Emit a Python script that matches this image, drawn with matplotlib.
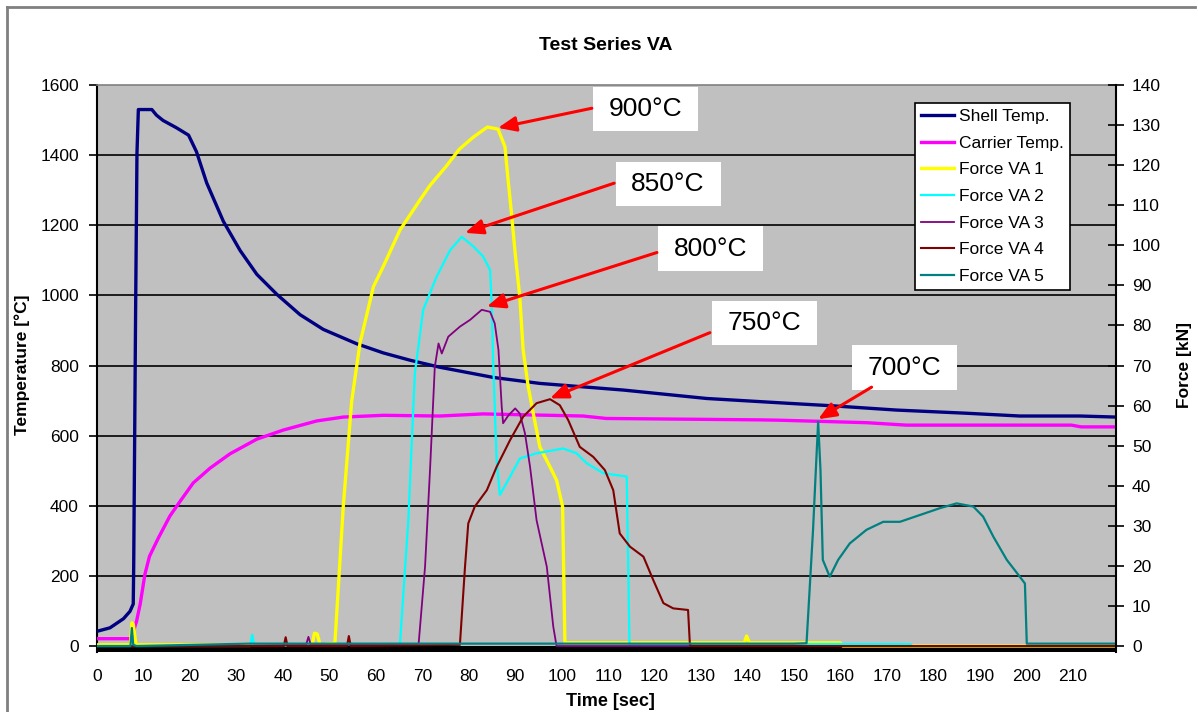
import matplotlib
matplotlib.use("Agg")
import matplotlib.pyplot as plt
from matplotlib.patches import Rectangle
from matplotlib.lines import Line2D

plt.rcParams['font.family'] = ['Liberation Sans', 'DejaVu Sans']

# ---------------- data ----------------
shell_t = [0, 2.8, 5.7, 7.1, 7.8, 7.9, 8.3, 8.6, 8.9, 11.8, 12.8, 14.2, 17.1, 19.7, 21.4, 23.6,
           27.2, 30.8, 34.4, 38.7, 43.7, 48.7, 55.9, 61.6, 67.4, 73.8, 85.3, 95.3, 113.3, 131.2,
           149.1, 158.4, 172, 187, 198.6, 211.5, 219.3]
shell_T = [42, 52, 78, 99, 120, 230, 940, 1405, 1530, 1530, 1514, 1499, 1478, 1457, 1410, 1321,
           1211, 1128, 1060, 1003, 945, 903, 862, 836, 815, 795, 766, 749, 730, 706,
           692, 685, 673, 664, 656, 656, 653]

carrier_t = [0, 7.4, 7.9, 8.5, 9.3, 10.3, 11.3, 13.2, 15.7, 17.9, 20.7, 24.3, 28.6, 34.4, 40.1,
             47.3, 53, 61.6, 73.8, 83.1, 104.6, 109.6, 142.7, 147, 165.6, 174.2, 209.7, 211.8, 219.3]
carrier_T = [21, 21, 45, 70, 120, 204, 256, 308, 371, 413, 465, 507, 548, 590, 616,
             642, 653, 658, 656, 662, 656, 649, 645, 644, 637, 630, 630, 625, 625]

f1_t = [0, 7.2, 7.5, 7.8, 8.4, 46.3, 46.8, 47.4, 48, 51.2, 53, 54.8, 56.6, 59.5, 61.6, 65.2,
        69.5, 71.7, 75, 78, 81, 84, 86.3, 87.8, 88.5, 89.2, 90, 91, 91.7, 92.8, 93.9, 95.3, 97.5,
        98.9, 100.2, 100.7, 101.2, 139.3, 139.8, 140.4, 160, 160.5, 219.3]
f1 = [0.3, 0.3, 5.8, 5.5, 0.3, 0.3, 3.2, 3.0, 0.3, 0.7, 34.8, 61, 75.6, 89.7, 94.7, 103.8,
      111.3, 115, 119.5, 124, 127, 129.5, 129, 124.6, 116, 108, 98, 87, 74, 64.7, 58, 49.7, 44.7,
      41.4, 34.8, 0.7, 0.8, 0.8, 2.5, 0.8, 0.8, 0, 0]

f2_t = [0, 33.0, 33.4, 33.8, 34.2, 65.2, 67, 68.4, 70.2, 73.1, 76, 78.5, 81, 83.1, 84.6, 84.9,
        85.3, 86, 86.7, 88.9, 91, 94.6, 100.3, 103.2, 105.4, 109, 114, 114.6, 115, 175, 175.5, 219.3]
f2 = [0, 0, 2.8, 0.5, 0.3, 0.5, 31.4, 68, 83.9, 92.2, 98.8, 102.1, 99.7, 97.2, 93.8, 86.3,
      69.7, 46.4, 37.7, 42.3, 46.8, 48.1, 49.3, 48.1, 45.6, 43.1, 42.3, 0.5, 0.5, 0.5, 0, 0]

f3_t = [0, 30, 45, 45.5, 46, 69.2, 70.6, 71.7, 72.7, 73.5, 74.2, 75.6, 78.1, 80.3, 82.8, 84.6,
        85.6, 86.4, 87.1, 87.4, 88.5, 90, 91, 92.1, 93.2, 94.6, 96.8, 98.2, 98.9, 219.3]
f3 = [0, 0, 0.3, 2.3, 0.3, 0.3, 19.8, 44.7, 69.7, 75.5, 73, 77.2, 79.7, 81.4, 83.9, 83.4,
      80.5, 73.9, 59.7, 55.6, 57.5, 59.3, 58, 53.1, 44.7, 31.4, 19.8, 4.8, 0, 0]

f4_t = [0, 40.2, 40.6, 41, 53.8, 54.2, 54.6, 78.1, 79.2, 79.9, 81.3, 83.9, 86, 88.9, 91.7,
        94.6, 97.5, 99.6, 101.4, 103.9, 106.8, 109.3, 111.1, 112.5, 114.7, 117.6, 119.7, 121.9,
        124, 127.2, 127.6, 128, 219.3]
f4 = [0, 0, 2.2, 0, 0, 2.5, 0, 0.3, 19.8, 30.6, 34.8, 38.9, 44.7, 51.4, 57.2,
      60.6, 61.6, 60.1, 56.4, 49.7, 47.2, 43.9, 38.9, 28.1, 24.8, 22.3, 16.5, 10.7,
      9.4, 9.0, 0.3, 0, 0]

f5_t = [0, 7.2, 7.5, 7.8, 8.5, 33, 150, 152.7, 154.1, 154.7, 155.2, 155.7, 156.2, 157.7, 159.5,
        162, 165.6, 169.2, 172.8, 177.1, 181.4, 185, 188.6, 190.7, 192.9, 195.8, 198.6, 199.7,
        200.1, 219.3]
f5 = [0, 0, 4.5, 0.3, 0, 0.6, 0.6, 0.7, 29, 43.9, 56, 43.9, 21.5, 17.3, 21.5,
      25.6, 29, 31, 31, 32.7, 34.4, 35.6, 34.8, 32.3, 27.3, 21.5, 17.3, 15.6,
      0.6, 0.6]

x_ticks = list(range(0, 211, 10))
temp_ticks = list(range(0, 1601, 200))
force_ticks = list(range(0, 141, 10))

ann_labels = ["900°C", "850°C", "800°C", "750°C", "700°C"]
ann_tip_t = [86.3, 79.2, 83.9, 97.5, 155.2]
ann_tip_f = [129.3, 103.1, 84.7, 61.8, 56.6]
ann_tail_t = [106.5, 111.3, 120.5, 131.9, 166.7]
ann_tail_f = [134.2, 115.5, 98.2, 78.2, 64.6]
ann_box_t = [118.0, 122.9, 132.0, 143.6, 173.8]
ann_box_f = [134.0, 115.2, 99.2, 80.5, 69.5]

# ---------------- layout ----------------
W, H = 1198, 712
def fx(x): return x / W
def fy(y): return 1 - y / H

fig = plt.figure(figsize=(W / 100, H / 100), dpi=100)
fig.patch.set_facecolor('white')
ax = fig.add_axes([fx(97), fy(652), (1116 - 97) / W, (652 - 85) / H])
ax.set_facecolor('#C0C0C0')
T_MIN = -17
ax.set_xlim(0, 219.3)
ax.set_ylim(T_MIN, 1600)
ax2 = ax.twinx()
ax2.set_ylim(T_MIN * 140 / 1600, 140)

for v in temp_ticks[1:-1]:
    ax.axhline(v, color='black', lw=1.2, zorder=0.5)
ax.axhspan(T_MIN, 0, color='black', zorder=0.6, lw=0)

ax.plot(shell_t, shell_T, color='#000080', lw=2.4, label='Shell Temp.', zorder=3)
ax.plot(carrier_t, carrier_T, color='#FF00FF', lw=2.4, label='Carrier Temp.', zorder=3)
ax2.plot(f1_t, f1, color='#FFFF00', lw=2.4, label='Force VA 1')
ax2.plot(f2_t, f2, color='#00FFFF', lw=1.6, label='Force VA 2')
ax2.plot(f3_t, f3, color='#800080', lw=1.3, label='Force VA 3')
ax2.plot(f4_t, f4, color='#800000', lw=1.5, label='Force VA 4')
ax2.plot(f5_t, f5, color='#008080', lw=1.6, label='Force VA 5')

ax.set_xticks(x_ticks)
ax.set_yticks(temp_ticks)
ax2.set_yticks(force_ticks)
ax.tick_params(axis='x', length=0, pad=12, labelsize=12.5, colors='black')
ax.tick_params(axis='y', direction='out', length=6, width=1.2, pad=7, labelsize=12.5)
ax2.tick_params(axis='y', direction='inout', length=11, width=1.2, pad=6, labelsize=12.5)

for a in (ax, ax2):
    for s in a.spines.values():
        s.set_visible(False)
ax.spines['left'].set_visible(True)
ax.spines['left'].set_color('black')
ax.spines['left'].set_linewidth(1.5)
ax.spines['top'].set_visible(True)
ax.spines['top'].set_color('#808080')
ax.spines['top'].set_linewidth(1.2)
ax2.spines['right'].set_visible(True)
ax2.spines['right'].set_color('black')
ax2.spines['right'].set_linewidth(1.5)

# annotations
box_w, box_h = 22.6, 11.0
for lab, tt, tf, at, af, bt, bf in zip(ann_labels, ann_tip_t, ann_tip_f, ann_tail_t, ann_tail_f,
                                       ann_box_t, ann_box_f):
    ax2.add_patch(Rectangle((bt - box_w / 2, bf - box_h / 2), box_w, box_h, facecolor='white',
                            edgecolor='none', zorder=10, clip_on=False))
    ax2.text(bt, bf, lab, fontsize=19, ha='center', va='center', zorder=11)
    ax2.annotate('', xy=(tt, tf), xytext=(at, af), zorder=12,
                 arrowprops=dict(arrowstyle='-|>,head_length=0.6,head_width=0.25', color='#FF0000',
                                 lw=2.2, mutation_scale=18, shrinkA=0, shrinkB=0))

# legend
h1, l1 = ax.get_legend_handles_labels()
h2, l2 = ax2.get_legend_handles_labels()
leg = fig.legend(h1 + h2, l1 + l2, loc='upper left', bbox_to_anchor=(fx(915), fy(103)),
                 bbox_transform=fig.transFigure, fontsize=12.5, frameon=True, fancybox=False,
                 edgecolor='black', framealpha=1, borderpad=0.35, labelspacing=0.66,
                 handlelength=1.9, handletextpad=0.3, borderaxespad=0)
leg.get_frame().set_linewidth(1.2)

# titles and labels
fig.text(fx(606), fy(45), 'Test Series VA', fontsize=14, fontweight='bold', ha='center', va='center')
fig.text(fx(22), fy(365), 'Temperature [°C]', fontsize=12.5, fontweight='bold', rotation=90,
         ha='center', va='center')
fig.text(fx(1185), fy(365), 'Force [kN]', fontsize=12.5, fontweight='bold', rotation=90,
         ha='center', va='center')
fig.text(fx(610), fy(702), 'Time [sec]', fontsize=13, fontweight='bold', ha='center', va='center')

# outer chart border
fig.add_artist(Line2D([fx(7), fx(7)], [fy(7), 0], color='#808080', lw=2, transform=fig.transFigure))
fig.add_artist(Line2D([fx(7), fx(1195)], [fy(7), fy(7)], color='#808080', lw=2, transform=fig.transFigure))

fig.savefig('out.png', dpi=100)
